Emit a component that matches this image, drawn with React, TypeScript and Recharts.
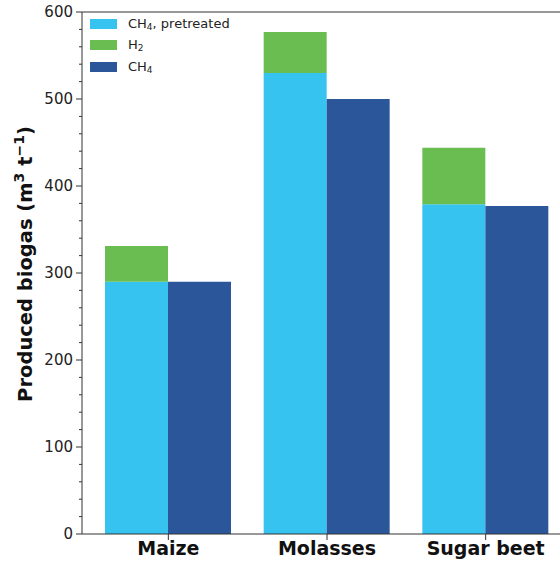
import { BarChart, Bar, XAxis, YAxis, Legend, ReferenceLine } from "recharts";

const categories = ["Maize", "Molasses", "Sugar beet"];
const ch4Pretreated = [290, 530, 379];
const h2Extra = [41, 47, 65];
const ch4Plain = [290, 500, 377];

// every 20 units gets a tick, labelled ones every 100
const yTicks = [
  0, 20, 40, 60, 80, 100, 120, 140, 160, 180, 200, 220, 240, 260, 280, 300,
  320, 340, 360, 380, 400, 420, 440, 460, 480, 500, 520, 540, 560, 580, 600,
];

const COLORS = {
  pretreated: "#37c3f0",
  h2: "#69bd51",
  ch4: "#2b579a",
};

const data = categories.map((name, i) => ({
  name,
  pretreated: ch4Pretreated[i],
  h2: h2Extra[i],
  ch4: ch4Plain[i],
}));

const legendItems = [
  { key: "pretreated", main: "CH", sub: "4", rest: ", pretreated" },
  { key: "h2", main: "H", sub: "2", rest: "" },
  { key: "ch4", main: "CH", sub: "4", rest: "" },
];

function LegendBox() {
  return (
    <div style={{ fontFamily: "DejaVu Sans", fontSize: 13, color: "#222" }}>
      {legendItems.map((it) => (
        <div
          key={it.key}
          style={{ display: "flex", alignItems: "center", height: 21.5 }}
        >
          <span
            style={{
              display: "inline-block",
              width: 27,
              height: 10,
              background: COLORS[it.key as keyof typeof COLORS],
              marginRight: 11,
            }}
          />
          <span>
            {it.main}
            <sub style={{ fontSize: 9, verticalAlign: "-2px" }}>{it.sub}</sub>
            {it.rest}
          </span>
        </div>
      ))}
    </div>
  );
}

function YTick(props: any) {
  const { x, y, payload } = props;
  const major = payload.value % 100 === 0;
  return (
    <g>
      <line
        x1={x - (major ? 6 : 3)}
        x2={x}
        y1={y}
        y2={y}
        stroke="#333"
        strokeWidth={1}
      />
      {major && (
        <text
          x={x - 9}
          y={y}
          dy="0.36em"
          textAnchor="end"
          fontSize={15}
          fill="#222"
        >
          {payload.value}
        </text>
      )}
    </g>
  );
}

function YLabel() {
  const x = 32;
  const y = 264;
  return (
    <text
      x={x}
      y={y}
      transform={`rotate(-90, ${x}, ${y})`}
      textAnchor="middle"
      fontFamily="DejaVu Sans"
      fontWeight="bold"
      fontSize={19.5}
      fill="#111"
    >
      Produced biogas (m
      <tspan fontSize={14} dy={-8}>
        3
      </tspan>
      <tspan dy={8}> t</tspan>
      <tspan fontSize={14} dy={-8}>
        −1
      </tspan>
      <tspan dy={8}>)</tspan>
    </text>
  );
}

export default function App() {
  return (
    <div
      style={{
        position: "absolute",
        left: 0,
        top: 0,
        width: 560,
        height: 563,
        overflow: "hidden",
        background: "#fff",
        fontFamily: "DejaVu Sans",
      }}
    >
      <BarChart
        width={600}
        height={563}
        data={data}
        margin={{ top: 12, right: 28, bottom: 0, left: 0 }}
        barGap={0}
      >
        <XAxis
          dataKey="name"
          height={29}
          padding={{ left: 7, right: 7 }}
          tickSize={6}
          tickMargin={2}
          stroke="#333"
          tick={{ fill: "#111", fontSize: 19, fontWeight: "bold" }}
        />
        <YAxis
          width={82}
          domain={[0, 600]}
          ticks={yTicks}
          interval={0}
          tickSize={0}
          tickMargin={0}
          tickLine={false}
          stroke="#333"
          tick={<YTick />}
          label={<YLabel />}
        />
        <ReferenceLine y={600} stroke="#333" />
        <Legend
          layout="vertical"
          align="center"
          verticalAlign="middle"
          wrapperStyle={{ left: 90, top: 13, width: 220 }}
          content={() => <LegendBox />}
        />
        <Bar
          dataKey="pretreated"
          stackId="s"
          fill={COLORS.pretreated}
          barSize={63}
          isAnimationActive={false}
        />
        <Bar
          dataKey="h2"
          stackId="s"
          fill={COLORS.h2}
          barSize={63}
          isAnimationActive={false}
        />
        <Bar
          dataKey="ch4"
          fill={COLORS.ch4}
          barSize={63}
          isAnimationActive={false}
        />
      </BarChart>
    </div>
  );
}
